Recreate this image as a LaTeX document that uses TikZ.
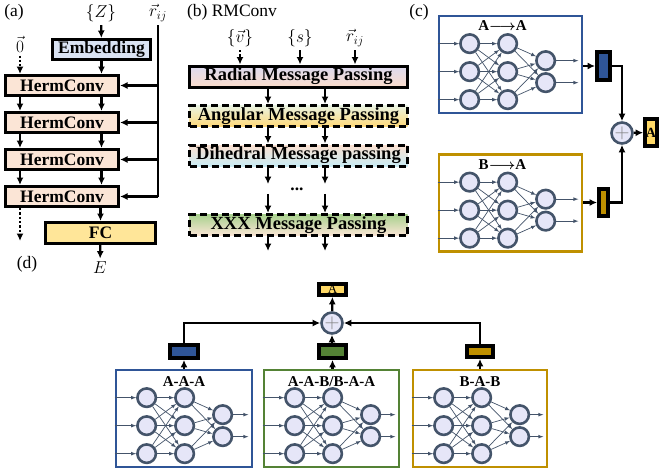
\documentclass[tikz,border=0pt]{standalone}
\usepackage{amsmath,amssymb}
\usepackage{fontspec}
\setmainfont{Liberation Serif}
\usepackage{xcolor}
\usepackage{tikz}
\usetikzlibrary{arrows,arrows.meta,positioning,calc}

\definecolor{embfill}{HTML}{DAE3F3}
\definecolor{hermfill}{HTML}{FBE5D6}
\definecolor{fcfill}{HTML}{FFE699}
\definecolor{netblue}{HTML}{2F5597}
\definecolor{netgold}{HTML}{BF9000}
\definecolor{netgreen}{HTML}{548235}
\definecolor{neuronfill}{HTML}{E6E6F8}
\definecolor{neuronedge}{HTML}{44546A}
\definecolor{outfill}{HTML}{FFD966}
\definecolor{radtop}{HTML}{DCDAEF}
\definecolor{radbot}{HTML}{FBDCCB}
\definecolor{angtop}{HTML}{E9F3E1}
\definecolor{angbot}{HTML}{FFD97A}
\definecolor{dihtop}{HTML}{FBE0D0}
\definecolor{dihbot}{HTML}{C9ECF5}
\definecolor{xxxtop}{HTML}{A9D18E}
\definecolor{xxxbot}{HTML}{FBE5D6}

% small fully connected net inside a box
\newcommand{\nnet}[2]{%
  \foreach \k/\dy in {1/29,2/57,3/85}{
    \node[neuron] (#2a\k) at ($(#1.north west)+(32,\dy)$) {};
    \node[neuron] (#2b\k) at ($(#1.north west)+(70,\dy)$) {};
    \draw[nnedge] (#1.west |- #2a\k) -- (#2a\k);
  }
  \foreach \k/\dy in {1/46,2/68}{
    \node[neuron] (#2c\k) at ($(#1.north west)+(108,\dy)$) {};
    \draw[nnedge] (#2c\k) -- ($(#1.east |- #2c\k)+(-5,0)$);
  }
  \foreach \i in {1,2,3}{
    \foreach \j in {1,2,3} \draw[nnedge] (#2a\i) -- (#2b\j);
    \foreach \j in {1,2} \draw[nnedge] (#2b\i) -- (#2c\j);
  }
}

\begin{document}
\begin{tikzpicture}[
    x=1pt, y=-1pt,
    node distance=14pt,
    font=\fontsize{17.5}{19}\selectfont,
    box/.style={rectangle, draw=black, line width=3pt, inner sep=0pt, text centered, font=\fontsize{17.5}{19}\selectfont\bfseries},
    hermbox/.style={box, fill=hermfill, minimum width=113pt, minimum height=20pt},
    mpbox/.style={box, minimum width=218pt, minimum height=21pt, font=\fontsize{18.5}{19}\selectfont\bfseries},
    dashbox/.style={mpbox, dash pattern=on 7pt off 4pt},
    arrow/.style={-{Latex[length=7.5pt,width=7pt]}, line width=2.3pt},
    dotarrow/.style={arrow, dotted},
    neuron/.style={circle, draw=neuronedge, fill=neuronfill, line width=2.6pt, minimum size=18.5pt, inner sep=0pt},
    nnedge/.style={-latex, draw=neuronedge, line width=0.7pt},
    netbox/.style={rectangle, line width=2.7pt, fill=white, minimum height=97pt},
    netlabel/.style={font=\fontsize{15}{17}\selectfont\bfseries},
    bar/.style={rectangle, draw=black, line width=3.8pt, inner sep=0pt},
    sumnode/.style={circle, draw=neuronedge, fill=neuronfill, line width=2.6pt, minimum size=21pt, inner sep=0pt, text=gray, font=\fontsize{22}{22}\selectfont}
]
    \useasboundingbox (0,0) rectangle (664,471);

    %% (a)
    \node (la) at (14,12) {(a)};
    \node (zin) at (101,13) {$\{Z\}$};
    \node (rA) at (158,13) {$\vec{r}_{ij}$};
    \node (zero) at (20,44) {$\vec{0}$};
    \node (emb) [box, fill=embfill, minimum width=97.5pt, minimum height=20pt] at (101.5,49.5) {Embedding};
    \node (H1) [hermbox] at (62,85.5) {HermConv};
    \node (H2) [hermbox, below=of H1] {HermConv};
    \node (H3) [hermbox, below=of H2] {HermConv};
    \node (H4) [hermbox, below=of H3] {HermConv};
    \node (FC) [box, fill=fcfill, minimum width=110pt, minimum height=21pt] at (100.5,233) {FC};
    \node (eout) at (100,268) {$E$};
    \coordinate (aout) at (20,241);

    \draw [arrow] (zin) -- (emb);
    \draw [arrow] (emb.south) -- (emb.south |- H1.north);
    \draw [dotarrow] (zero.south) -- (zero.south |- H1.north);
    \foreach \i/\j in {1/2,2/3,3/4}{
        \draw [arrow] (H\i.south -| zero) -- (H\j.north -| zero);
        \draw [arrow] (H\i.south -| emb) -- (H\j.north -| emb);
    }
    \draw [dotarrow] (H4.south -| zero) -- (aout);
    \draw [arrow] (H4.south -| FC) -- (FC.north);
    \draw [arrow] (FC) -- (eout);
    \draw [line width=2.8pt] (rA.south) -- (rA.south |- H4.east);
    \foreach \i in {1,2,3,4}
        \draw [arrow] (rA.south |- H\i.east) -- (H\i.east);

    %% (b)
    \node (lb) at (232,12) {(b) RMConv};
    \node (vin) at (240,38) {$\{\vec{v}\}$};
    \node (sin) at (300,38) {$\{s\}$};
    \node (rB) at (355,38) {$\vec{r}_{ij}$};
    \node (radial) [mpbox, top color=radtop, bottom color=radbot] at (298.5,76.5) {Radial Message Passing};
    \node (angular) [dashbox, top color=angtop, bottom color=angbot] at (298.5,116) {Angular Message Passing};
    \node (dihedral) [dashbox, top color=dihtop, bottom color=dihbot] at (298.5,155.5) {Dihedral Message passing};
    \node (dots) at (297,189) {\textbf{...}};
    \node (xxx) [dashbox, top color=xxxtop, bottom color=xxxbot] at (298.5,225) {XXX Message Passing};
    \coordinate (colL) at (268,0);
    \coordinate (colR) at (325,0);
    \coordinate (bout) at (0,251);

    \draw [dotarrow] (vin.south) -- (vin.south |- radial.north);
    \draw [arrow] (sin.south) -- (sin.south |- radial.north);
    \draw [arrow] (rB.south) -- (rB.south |- radial.north);
    \foreach \c in {colL,colR}{
        \draw [arrow] (radial.south -| \c) -- (angular.north -| \c);
        \draw [arrow] (angular.south -| \c) -- (dihedral.north -| \c);
        \draw [arrow] (dihedral.south -| \c) -- (dots.north -| \c);
        \draw [arrow] (dots.south -| \c) -- (xxx.north -| \c);
        \draw [arrow] (xxx.south -| \c) -- (bout -| \c);
    }

    %% (c)
    \node (lc) at (419,12) {(c)};
    \node (AA) [netbox, draw=netblue, minimum width=143pt] at (510.5,64.5) {};
    \node (BA) [netbox, draw=netgold, minimum width=143pt] at (510.5,203) {};
    \node (AAlab) [netlabel] at ($(AA.north)+(-8,11)$) {A$\boldsymbol{\longrightarrow}$A};
    \node (BAlab) [netlabel] at ($(BA.north)+(-8,11)$) {B$\boldsymbol{\longrightarrow}$A};
    \nnet{AA}{p}
    \nnet{BA}{q}
    \node (barAA) [bar, fill=netblue, minimum width=13pt, minimum height=28pt] at (603.5,66) {};
    \node (barBA) [bar, fill=netgold, minimum width=9pt, minimum height=27pt] at (603.5,202.5) {};
    \node (sumC) [sumnode] at (622,133) {$+$};
    \node (outC) [bar, fill=outfill, minimum width=12pt, minimum height=27pt, font=\fontsize{14}{14}\selectfont\bfseries] at (651,132.5) {A};

    \draw [arrow] (AA.east |- barAA) -- (barAA.west);
    \draw [arrow] (BA.east |- barBA) -- (barBA.west);
    \draw [arrow] (barAA.east) -| (sumC.north);
    \draw [arrow] (barBA.east) -| (sumC.south);
    \draw [arrow] (sumC) -- (outC);

    %% (d)
    \node (ld) at (27,264) {(d)};
    \node (AAA) [netbox, draw=netblue, minimum width=136pt] at (184,418.5) {};
    \node (AAB) [netbox, draw=netgreen, minimum width=135pt] at (331.5,418.5) {};
    \node (BAB) [netbox, draw=netgold, minimum width=134pt] at (480,418.5) {};
    \node (AAAlab) [netlabel] at ($(AAA.north)+(0,13)$) {A-A-A};
    \node (AABlab) [netlabel] at ($(AAB.north)+(0,13)$) {A-A-B/B-A-A};
    \node (BABlab) [netlabel] at ($(BAB.north)+(0,13)$) {B-A-B};
    \nnet{AAA}{u}
    \nnet{AAB}{v}
    \nnet{BAB}{w}
    \node (barAAA) [bar, fill=netblue, minimum width=28pt, minimum height=13pt] at (184,351.5) {};
    \node (barAAB) [bar, fill=netgreen, minimum width=27pt, minimum height=13pt] at (332.5,351.5) {};
    \node (barBAB) [bar, fill=netgold, minimum width=26pt, minimum height=11pt] at (480,351.5) {};
    \node (sumD) [sumnode] at (332,323) {$+$};
    \node (outD) [bar, fill=outfill, minimum width=27pt, minimum height=11pt, font=\fontsize{13}{13}\selectfont] at (332.5,289.5) {A};

    \draw [arrow] (AAA.north) -- (barAAA.south);
    \draw [arrow] (AAB.north -| barAAB) -- (barAAB.south);
    \draw [arrow] (BAB.north) -- (barBAB.south);
    \draw [arrow] (barAAA.north) |- (sumD.west);
    \draw [arrow] (barBAB.north) |- (sumD.east);
    \draw [arrow] (barAAB.north -| sumD) -- (sumD.south);
    \draw [arrow] (sumD) -- (outD);
\end{tikzpicture}
\end{document}
